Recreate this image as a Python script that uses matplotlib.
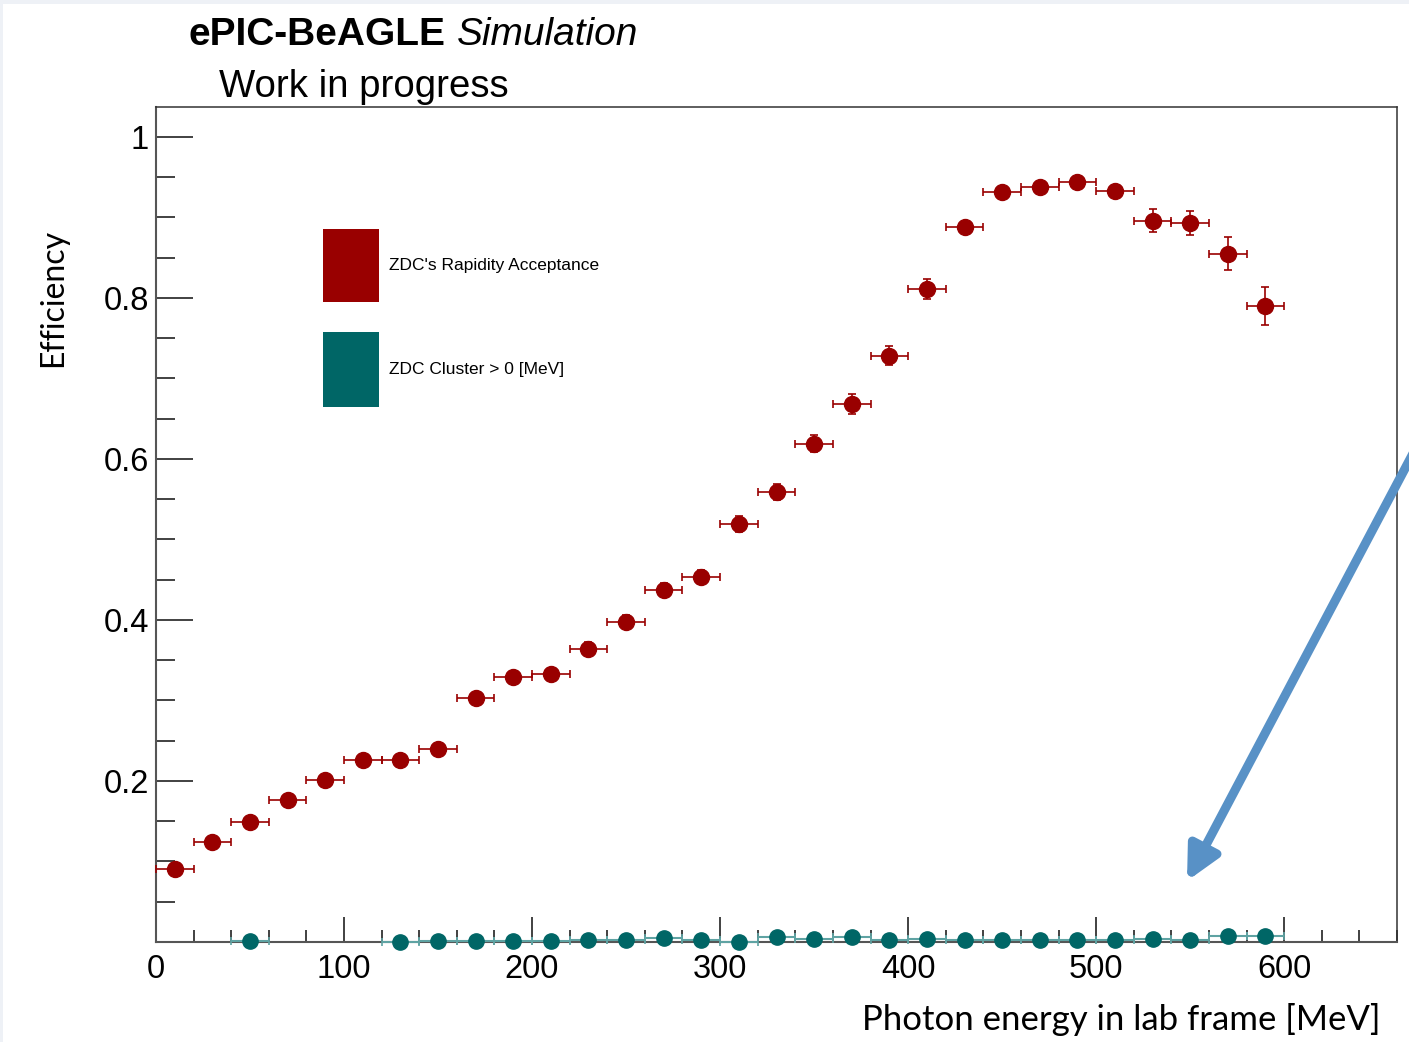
import numpy as np
import matplotlib.pyplot as plt
from matplotlib.ticker import MultipleLocator
from matplotlib.patches import Rectangle

# bins of 20 MeV, points at bin centres
energy = np.arange(10, 600, 20)

# ZDC's rapidity acceptance efficiency
eff_rap = [0.091, 0.124, 0.149, 0.176, 0.201, 0.226, 0.226, 0.240, 0.303, 0.329,
           0.333, 0.364, 0.398, 0.437, 0.453, 0.519, 0.559, 0.619, 0.668, 0.728,
           0.811, 0.888, 0.932, 0.938, 0.944, 0.933, 0.896, 0.893, 0.855, 0.790]
err_rap = [0.004, 0.005, 0.005, 0.005, 0.005, 0.006, 0.006, 0.006, 0.007, 0.007,
           0.007, 0.008, 0.008, 0.009, 0.009, 0.010, 0.010, 0.011, 0.012, 0.012,
           0.012, 0.006, 0.005, 0.005, 0.005, 0.007, 0.014, 0.015, 0.020, 0.024]

# ZDC cluster energy > 0 efficiency
energy_clu = np.array([50] + list(range(130, 600, 20)))
eff_clu = [0.001, 0.000, 0.001, 0.001, 0.001, 0.001, 0.003, 0.002, 0.005, 0.002,
           0.000, 0.006, 0.004, 0.006, 0.003, 0.004, 0.003, 0.003, 0.003, 0.003,
           0.003, 0.004, 0.003, 0.008, 0.007]
err_clu = [0.001] * len(eff_clu)

RED = '#990000'
TEAL = '#006666'
W, H = 1409, 1042

plt.rcParams['font.family'] = ['Liberation Sans', 'DejaVu Sans']
fig = plt.figure(figsize=(W / 100, H / 100), dpi=100, facecolor='white')

# slide background strips
fig.add_artist(Rectangle((0, 1 - 4 / H), 1, 4 / H, transform=fig.transFigure,
                         color='#eef1f6', lw=0))
fig.add_artist(Rectangle((0, 0), 3 / W, 1, transform=fig.transFigure,
                         color='#eef1f6', lw=0))

ax = fig.add_axes([156 / W, 100 / H, (1397 - 156) / W, (942 - 107) / H])

ax.errorbar(energy, eff_rap, xerr=10, yerr=err_rap, fmt='o', color=RED,
            ecolor=RED, ms=11.5, elinewidth=1.2, capsize=3, capthick=1.2,
            clip_on=False, zorder=3)
eb = ax.errorbar(energy_clu, eff_clu, xerr=10, yerr=err_clu, fmt='o', color=TEAL,
                 ecolor='#5fa3a3', ms=11, elinewidth=1.5, capsize=3, capthick=1.2,
                 clip_on=False, zorder=3)
for art in eb.lines[1] + eb.lines[2]:
    art.set_clip_on(False)

ax.set_xlim(0, 660)
ax.set_ylim(0, 1.037)
ax.xaxis.set_major_locator(MultipleLocator(100))
ax.xaxis.set_minor_locator(MultipleLocator(20))
ax.yaxis.set_major_locator(MultipleLocator(0.2))
ax.yaxis.set_minor_locator(MultipleLocator(0.05))
ax.set_yticks([0.2, 0.4, 0.6, 0.8, 1.0])
ax.set_yticklabels(['0.2', '0.4', '0.6', '0.8', '1'])

ax.tick_params(axis='both', which='both', direction='in', labelsize=23.5,
               color='#333333', width=1.3)
ax.tick_params(axis='x', which='major', length=18, pad=9)
ax.tick_params(axis='x', which='minor', length=8.6)
ax.tick_params(axis='y', which='major', length=26.6, pad=5)
ax.tick_params(axis='y', which='minor', length=14)
for side in ['left', 'bottom']:
    ax.spines[side].set_linewidth(1.5)
    ax.spines[side].set_color('#555555')
for side in ['top', 'right']:
    ax.spines[side].set_linewidth(1.1)
    ax.spines[side].set_color('#333333')

# legend boxes
ax.add_patch(Rectangle((89, 0.795), 29.5, 0.091, color=RED, lw=0))
ax.add_patch(Rectangle((89, 0.665), 29.5, 0.092, color=TEAL, lw=0))
ax.text(124, 0.840, "ZDC's Rapidity Acceptance", fontsize=12.5, va='center')
ax.text(124, 0.711, 'ZDC Cluster > 0 [MeV]', fontsize=12.5, va='center')

# titles
fig.text(188 / W, 1 - 45 / H, 'ePIC-BeAGLE', fontsize=28, weight='bold')
fig.text(457 / W, 1 - 45 / H, 'Simulation', fontsize=28, style='italic')
fig.text(219 / W, 1 - 97 / H, 'Work in progress', fontsize=27.6)

fig.text(53 / W, 1 - 298 / H, 'Efficiency', fontsize=23, rotation=90,
         ha='center', va='center', family=['Lato', 'DejaVu Sans'])
fig.text(1380 / W, 1 - 1020 / H, 'Photon energy in lab frame [MeV]', fontsize=25,
         ha='right', va='center', family=['Lato', 'DejaVu Sans'])

# pointer arrow
fig.add_artist(plt.Annotation('', xy=(1187 / W, 1 - 881 / H), xycoords='figure fraction',
                              xytext=(1418 / W, 1 - 444 / H), textcoords='figure fraction',
                              arrowprops=dict(arrowstyle='-|>', color='#5891c6', lw=6.5,
                                              mutation_scale=50, shrinkA=0, shrinkB=0)))

fig.savefig('out.png', dpi=100, facecolor='white')
